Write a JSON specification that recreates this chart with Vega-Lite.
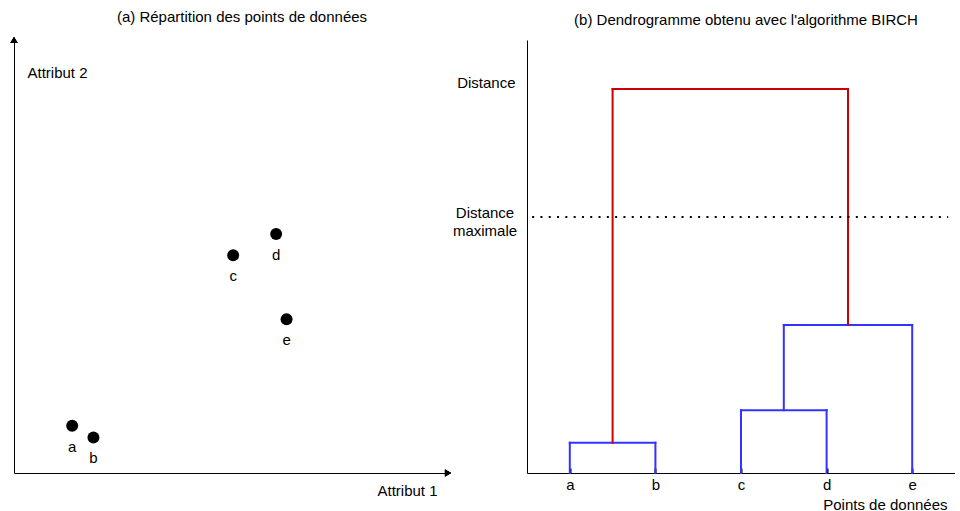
{
  "$schema": "https://vega.github.io/schema/vega-lite/v6.json",
  "background": "white",
  "padding": {"left": 10, "top": 9, "right": 0, "bottom": 0},
  "bounds": "flush",
  "spacing": 79,
  "config": {
    "font": "Liberation Sans",
    "view": {"stroke": null},
    "title": {"font": "Liberation Sans", "fontSize": 15, "fontWeight": "normal", "color": "black", "anchor": "middle"},
    "axis": {
      "domainColor": "black",
      "domainWidth": 1,
      "grid": false,
      "labelFont": "Liberation Sans",
      "labelFontSize": 15,
      "labelColor": "black",
      "titleFont": "Liberation Sans",
      "titleFontSize": 15,
      "titleFontWeight": "normal",
      "titleColor": "black"
    }
  },
  "hconcat": [
    {
      "width": 434,
      "height": 433,
      "title": {"text": "(a) Répartition des points de données", "offset": 12, "dx": 11},
      "data": {
        "values": [
          {"nom": "a", "attribut1": 1.34, "attribut2": 1.09},
          {"nom": "b", "attribut1": 1.83, "attribut2": 0.82},
          {"nom": "c", "attribut1": 5.05, "attribut2": 5.03},
          {"nom": "d", "attribut1": 6.04, "attribut2": 5.52},
          {"nom": "e", "attribut1": 6.28, "attribut2": 3.55}
        ]
      },
      "layer": [
        {
          "mark": {"type": "point", "shape": "circle", "filled": true, "size": 143, "color": "black", "opacity": 1},
          "encoding": {
            "x": {
              "field": "attribut1", "type": "quantitative",
              "scale": {"domain": [0, 10], "nice": false, "zero": false},
              "axis": {"title": "Attribut 1", "labels": false, "ticks": false, "titleAngle": 0, "titleAlign": "right", "titleBaseline": "middle", "titleX": 423, "titleY": 17}
            },
            "y": {
              "field": "attribut2", "type": "quantitative",
              "scale": {"domain": [0, 10], "nice": false, "zero": false},
              "axis": {"title": "Attribut 2", "labels": false, "ticks": false, "titleAngle": 0, "titleAlign": "left", "titleBaseline": "middle", "titleX": 13, "titleY": 32}
            }
          }
        },
        {
          "mark": {"type": "text", "dy": 21, "fontSize": 15, "baseline": "middle", "align": "center", "color": "black"},
          "encoding": {
            "x": {"field": "attribut1", "type": "quantitative"},
            "y": {"field": "attribut2", "type": "quantitative"},
            "text": {"field": "nom", "type": "nominal"}
          }
        },
        {
          "mark": {"type": "point", "shape": "triangle-up", "filled": true, "size": 50, "color": "black", "opacity": 1},
          "encoding": {
            "x": {"datum": 0, "type": "quantitative"},
            "y": {"datum": 10, "type": "quantitative"}
          }
        },
        {
          "mark": {"type": "point", "shape": "triangle-right", "filled": true, "size": 50, "color": "black", "opacity": 1},
          "encoding": {
            "x": {"datum": 10, "type": "quantitative"},
            "y": {"datum": 0, "type": "quantitative"}
          }
        }
      ]
    },
    {
      "width": 428,
      "height": 433,
      "title": {"text": "(b) Dendrogramme obtenu avec l'algorithme BIRCH", "offset": 12, "dx": 5},
      "layer": [
        {
          "data": {
            "values": [
              {"groupe": "sous-groupe", "x": 1, "y": 0, "x2": 1, "y2": 0.79},
              {"groupe": "sous-groupe", "x": 2, "y": 0, "x2": 2, "y2": 0.79},
              {"groupe": "sous-groupe", "x": 1, "y": 0.79, "x2": 2, "y2": 0.79},
              {"groupe": "sous-groupe", "x": 3, "y": 0, "x2": 3, "y2": 1.64},
              {"groupe": "sous-groupe", "x": 4, "y": 0, "x2": 4, "y2": 1.64},
              {"groupe": "sous-groupe", "x": 3, "y": 1.64, "x2": 4, "y2": 1.64},
              {"groupe": "sous-groupe", "x": 3.5, "y": 1.64, "x2": 3.5, "y2": 3.86},
              {"groupe": "sous-groupe", "x": 5, "y": 0, "x2": 5, "y2": 3.86},
              {"groupe": "sous-groupe", "x": 3.5, "y": 3.86, "x2": 5, "y2": 3.86},
              {"groupe": "fusion", "x": 1.5, "y": 0.79, "x2": 1.5, "y2": 10.02},
              {"groupe": "fusion", "x": 1.5, "y": 10.02, "x2": 4.25, "y2": 10.02},
              {"groupe": "fusion", "x": 4.25, "y": 3.86, "x2": 4.25, "y2": 10.02}
            ]
          },
          "mark": {"type": "rule", "strokeWidth": 2, "strokeCap": "square"},
          "encoding": {
            "x": {
              "field": "x", "type": "quantitative",
              "scale": {"domain": [0.5, 5.5], "nice": false, "zero": false},
              "axis": {
                "title": "Points de données", "values": [1, 2, 3, 4, 5],
                "labelExpr": "['a','b','c','d','e'][datum.value - 1]",
                "ticks": true, "tickSize": -5, "tickColor": "black", "tickWidth": 2, "labelPadding": 9,
                "titleAngle": 0, "titleAlign": "right", "titleBaseline": "middle", "titleX": 420, "titleY": 31
              }
            },
            "x2": {"field": "x2"},
            "y": {
              "field": "y", "type": "quantitative",
              "scale": {"domain": [0, 11.3], "nice": false, "zero": false},
              "axis": {"title": "Distance", "labels": false, "ticks": false, "titleAngle": 0, "titleAlign": "right", "titleBaseline": "middle", "titleX": -12, "titleY": 42}
            },
            "y2": {"field": "y2"},
            "color": {
              "field": "groupe", "type": "nominal",
              "scale": {"domain": ["sous-groupe", "fusion"], "range": ["#3333ff", "#cc0000"]},
              "legend": null
            }
          }
        },
        {
          "data": {"values": [{"seuil": 6.68, "debut": 0.56, "fin": 5.42}]},
          "layer": [
            {
              "mark": {"type": "rule", "strokeDash": [2, 6.3], "strokeWidth": 2, "color": "black"},
              "encoding": {
                "y": {"field": "seuil", "type": "quantitative"},
                "x": {"field": "debut", "type": "quantitative"},
                "x2": {"field": "fin"}
              }
            },
            {
              "mark": {"type": "text", "text": ["Distance", "maximale"], "align": "center", "baseline": "middle", "dx": -42, "dy": -4, "fontSize": 15, "lineHeight": 18, "color": "black"},
              "encoding": {
                "y": {"field": "seuil", "type": "quantitative"},
                "x": {"datum": 0.5, "type": "quantitative"}
              }
            }
          ]
        },
        {
          "mark": {"type": "point", "shape": "triangle-up", "filled": true, "size": 50, "color": "black", "opacity": 1},
          "encoding": {
            "x": {"datum": 0.5, "type": "quantitative"},
            "y": {"datum": 11.3, "type": "quantitative"}
          }
        },
        {
          "mark": {"type": "point", "shape": "triangle-right", "filled": true, "size": 50, "color": "black", "opacity": 1},
          "encoding": {
            "x": {"datum": 5.5, "type": "quantitative"},
            "y": {"datum": 0, "type": "quantitative"}
          }
        }
      ]
    }
  ]
}
